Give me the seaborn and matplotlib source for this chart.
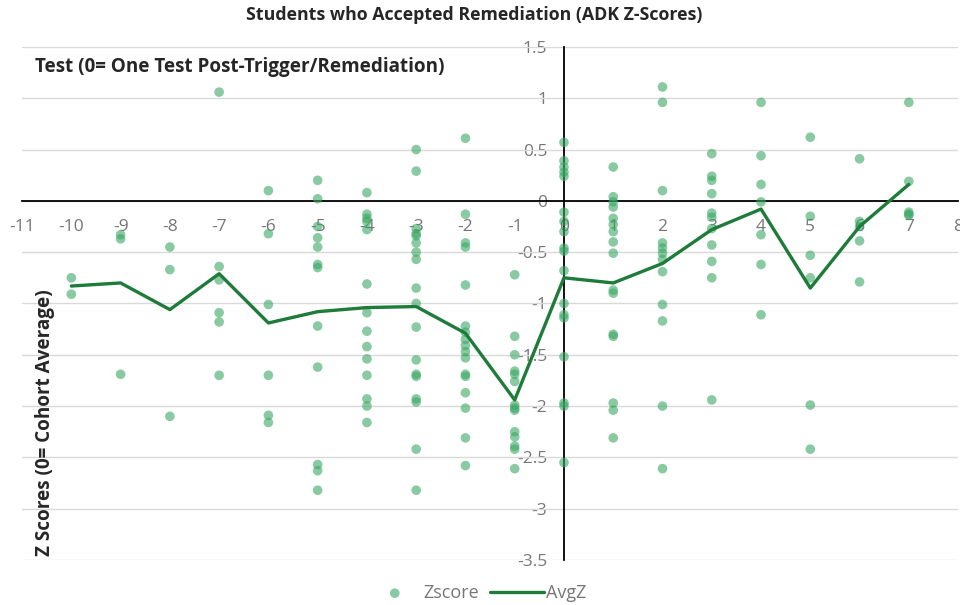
import pandas as pd
import numpy as np
import matplotlib.pyplot as plt
import seaborn as sns

# z-scores of each student, grouped by test offset
z_m10 = [-0.75, -0.91]
z_m9 = [-0.33, -0.37, -1.69]
z_m8 = [-0.45, -0.67, -2.10]
z_m7 = [1.06, -0.64, -0.77, -1.09, -1.18, -1.70]
z_m6 = [0.10, -0.32, -1.01, -1.70, -2.09, -2.16]
z_m5 = [0.20, 0.02, -0.25, -0.36, -0.45, -0.62, -0.65, -1.22, -1.62, -2.57, -2.63, -2.82]
z_m4 = [0.08, -0.13, -0.17, -0.20, -0.28, -0.81, -1.09, -1.27, -1.42, -1.54, -1.70, -1.93, -2.00, -2.16]
z_m3 = [0.50, 0.29, -0.27, -0.32, -0.34, -0.41, -0.50, -0.57, -0.85, -1.00, -1.23, -1.55,
        -1.69, -1.71, -1.93, -1.96, -2.42, -2.82]
z_m2 = [0.61, -0.13, -0.41, -0.45, -0.82, -1.22, -1.28, -1.35, -1.41, -1.47, -1.53, -1.69,
        -1.71, -1.87, -2.02, -2.31, -2.58]
z_m1 = [-0.72, -1.32, -1.50, -1.66, -1.69, -1.76, -1.99, -2.02, -2.04, -2.25, -2.30, -2.39, -2.42, -2.61]
z_0 = [0.57, 0.39, 0.33, 0.28, 0.24, -0.11, -0.20, -0.30, -0.46, -0.49, -0.68, -1.00, -1.11,
       -1.14, -1.52, -1.97, -2.00, -2.55]
z_1 = [0.33, 0.04, -0.01, -0.06, -0.17, -0.23, -0.30, -0.40, -0.51, -0.87, -0.90, -1.30, -1.32,
       -1.97, -2.04, -2.31]
z_2 = [1.11, 0.96, 0.10, -0.41, -0.46, -0.51, -0.57, -0.69, -1.01, -1.17, -2.00, -2.61]
z_3 = [0.46, 0.24, 0.20, 0.07, -0.12, -0.16, -0.27, -0.43, -0.59, -0.75, -1.94]
z_4 = [0.96, 0.44, 0.16, -0.01, -0.33, -0.62, -1.11]
z_5 = [0.62, -0.15, -0.53, -0.75, -1.99, -2.42]
z_6 = [0.41, -0.20, -0.25, -0.39, -0.79]
z_7 = [0.96, 0.19, -0.11, -0.13, -0.14]

tests = list(range(-10, 8))
avg_z = [-0.83, -0.80, -1.06, -0.71, -1.19, -1.08, -1.04, -1.03, -1.29, -1.94,
         -0.75, -0.80, -0.61, -0.28, -0.08, -0.85, -0.25, 0.16]

groups = [z_m10, z_m9, z_m8, z_m7, z_m6, z_m5, z_m4, z_m3, z_m2, z_m1,
          z_0, z_1, z_2, z_3, z_4, z_5, z_6, z_7]

points = pd.DataFrame({
    "Test": [t for t, g in zip(tests, groups) for _ in g],
    "Zscore": [v for g in groups for v in g],
})
avg = pd.DataFrame({"Test": tests, "AvgZ": avg_z})

sns.set_style("white")
plt.rcParams['font.family'] = ['Open Sans', 'DejaVu Sans']
plt.rcParams['axes.unicode_minus'] = False

fig = plt.figure(figsize=(9.6, 6.05), dpi=100)
ax = fig.add_axes([0.023, 0.0744, 0.975, 0.848])

sns.scatterplot(x="Test", y="Zscore", data=points, color="#3aa864", alpha=0.6,
                s=48, edgecolor="none", label="Zscore", ax=ax, zorder=3)
sns.lineplot(x="Test", y="AvgZ", data=avg, color="#1e7b3a", linewidth=2.4,
             label="AvgZ", ax=ax, zorder=4)

ax.set_xlim(-11, 8)
ax.set_ylim(-3.5, 1.5)
ax.set_xticks(range(-11, 9))
ax.set_yticks(np.arange(-3.5, 1.51, 0.5))
ax.set_yticklabels([f"{v:g}" for v in np.arange(-3.5, 1.51, 0.5)])
for y in np.arange(-3.5, 1.51, 0.5):
    ax.axhline(y, color="#d9d9d9", linewidth=1, zorder=1)

ax.spines['left'].set_position(('data', 0))
ax.spines['bottom'].set_position(('data', 0))
ax.spines['top'].set_visible(False)
ax.spines['right'].set_visible(False)
ax.spines['left'].set_color("black")
ax.spines['bottom'].set_color("black")
ax.spines['left'].set_linewidth(1.3)
ax.spines['bottom'].set_linewidth(1.3)
ax.tick_params(axis='both', length=0, labelsize=12.5, labelcolor="#767676")
ax.tick_params(axis='x', pad=13)
ax.tick_params(axis='y', pad=12)
ax.set_xlabel("")
ax.set_ylabel("")

fig.text(0.494, 0.975, "Students who Accepted Remediation (ADK Z-Scores)", ha="center", va="center",
         fontsize=12.8, fontweight="bold")
fig.text(0.036, 0.889, "Test (0= One Test Post-Trigger/Remediation)", ha="left", va="center",
         fontsize=13.6, fontweight="bold")
fig.text(0.047, 0.302, "Z Scores (0= Cohort Average)", ha="center", va="center",
         rotation=90, fontsize=13.6, fontweight="bold")

ax.legend(loc="center", bbox_to_anchor=(0.497, 0.02), bbox_transform=fig.transFigure,
          ncol=2, frameon=False, fontsize=13, labelcolor="#767676", handlelength=3,
          handletextpad=0.1, columnspacing=0.6)

plt.savefig("out.png", dpi=100)
